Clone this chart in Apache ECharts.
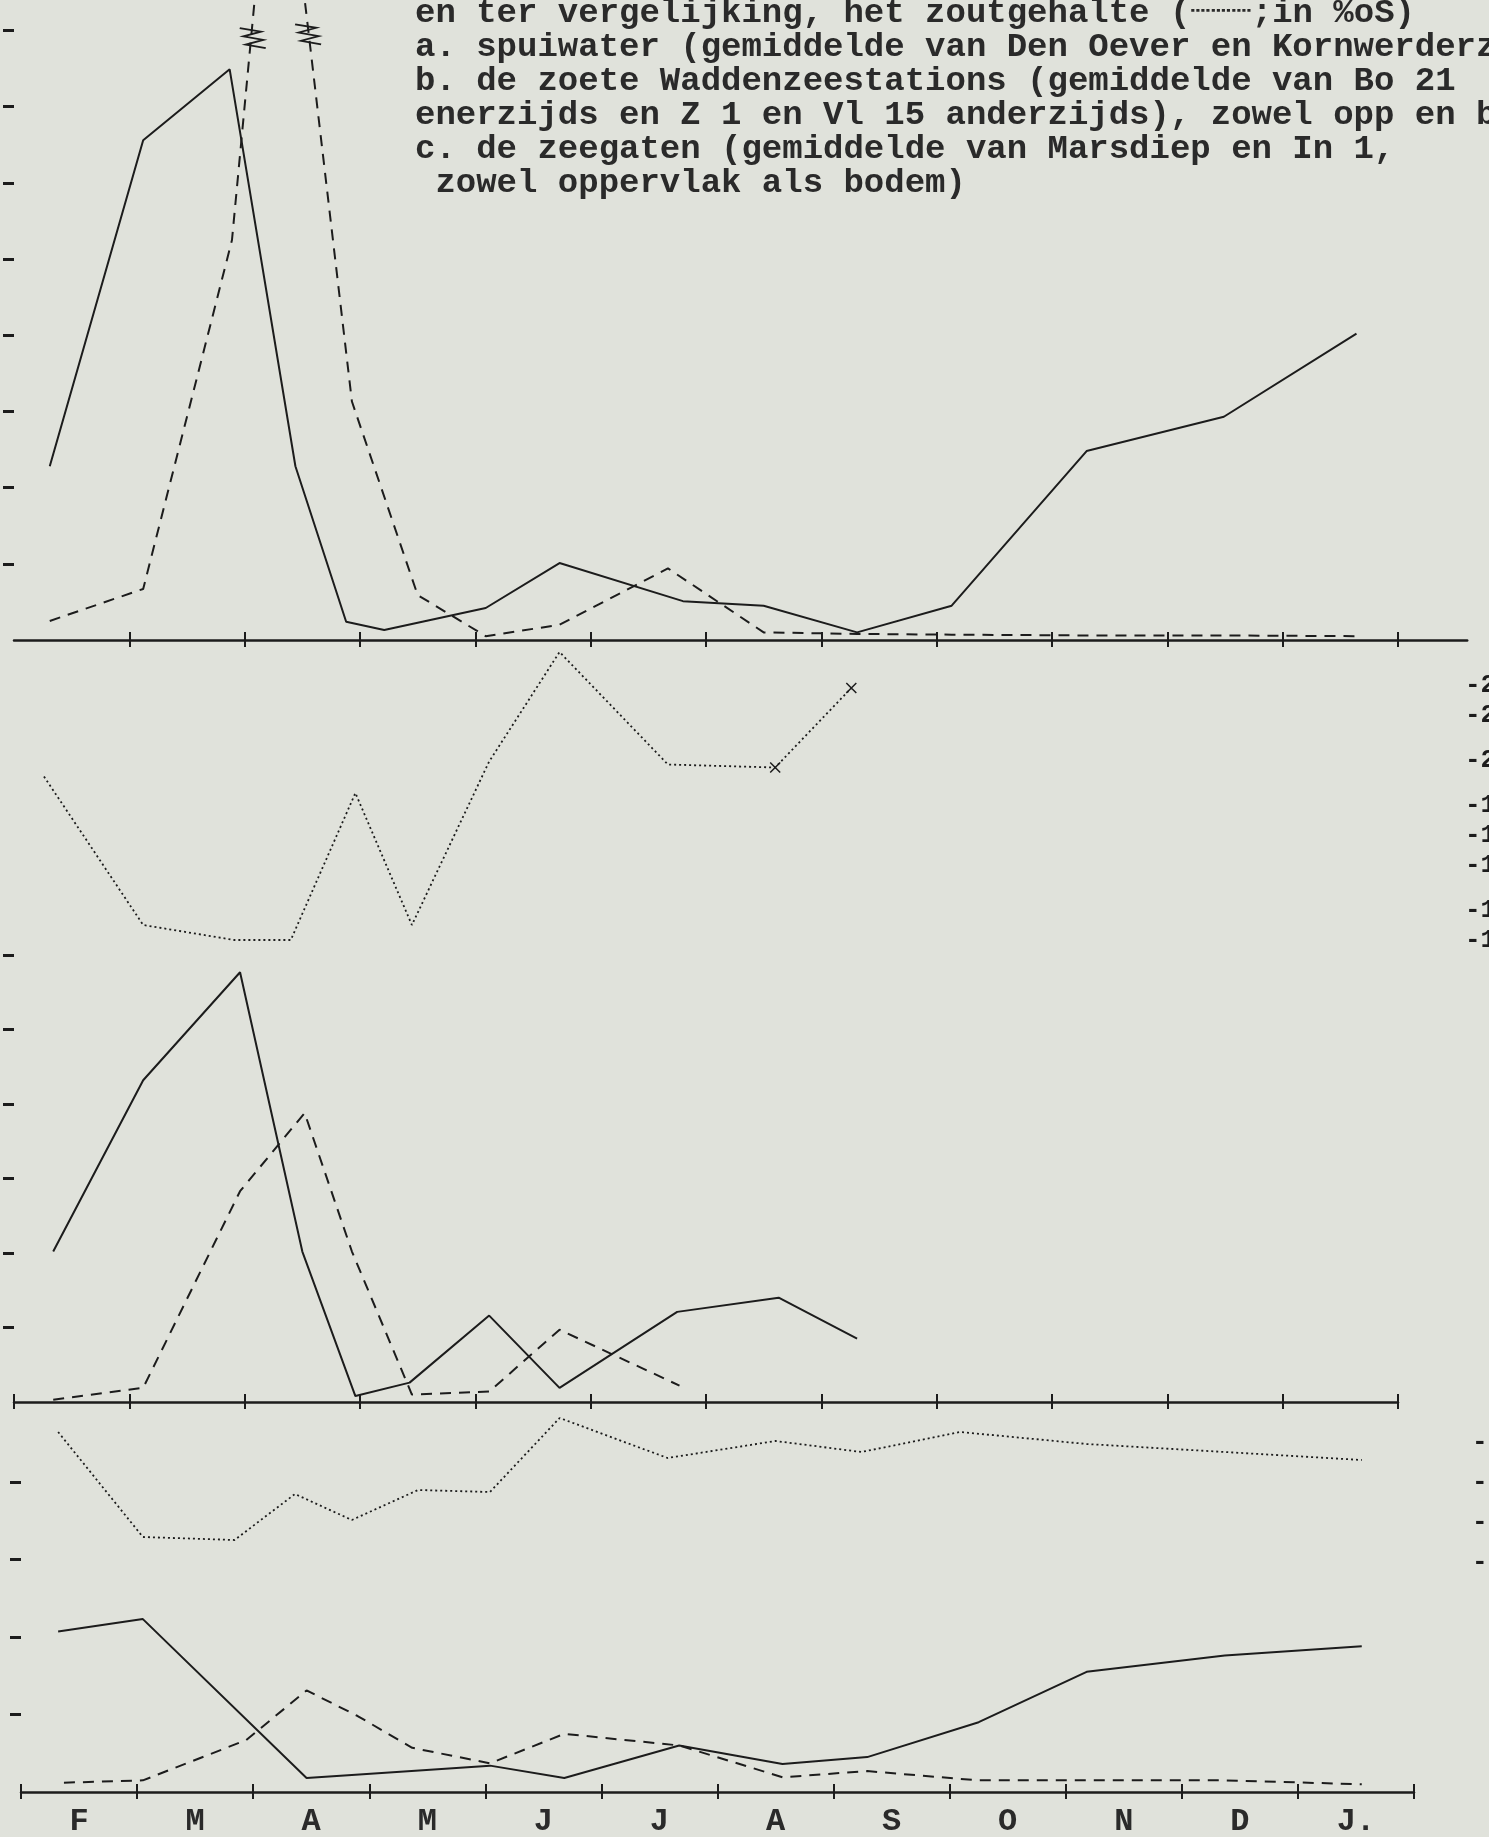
<!DOCTYPE html>
<html>
<head>
<meta charset="utf-8">
<script src="https://cdn.jsdelivr.net/npm/echarts@6/dist/echarts.min.js"></script>
<style>
    html, body { margin: 0; padding: 0; background: #e0e2db; }
    #chart { width: 1489px; height: 1837px; }
</style>
</head>
<body>
<div id="chart"></div>
<script>
var months = ['F', 'M', 'A', 'M', 'J', 'J', 'A', 'S', 'O', 'N', 'D', 'J.'];
var headerLines = [
    'en ter vergelijking, het zoutgehalte (\u2508\u2508\u2508;in %oS)',
    'a. spuiwater (gemiddelde van Den Oever en Kornwerderz',
    'b. de zoete Waddenzeestations (gemiddelde van Bo 21',
    'enerzijds en Z 1 en Vl 15 anderzijds), zowel opp en bo)',
    'c. de zeegaten (gemiddelde van Marsdiep en In 1,',
    ' zowel oppervlak als bodem)'
];

// x = maanden vanaf begin februari
// a. spuiwater
var spuiSolid = [[0.31, 2.28], [1.12, 6.56], [1.87, 7.49], [2.44, 2.28], [2.88, 0.24], [3.21, 0.13], [4.09, 0.42], [4.73, 1.01], [5.80, 0.51], [6.50, 0.45], [7.31, 0.10], [8.13, 0.45], [9.30, 2.48], [10.49, 2.93], [11.64, 4.02]];
var spuiDashed = [[0.31, 0.25], [1.12, 0.67], [1.89, 5.25], [2.28, 11.5], [2.93, 3.13], [3.50, 0.59], [4.09, 0.05], [4.73, 0.20], [5.67, 0.94], [6.50, 0.10], [7.31, 0.08], [8.13, 0.07], [9.30, 0.06], [10.49, 0.06], [11.64, 0.05]];
var spuiBreaks = [[2.07, 7.9], [2.55, 7.95]];

// b. zoete Waddenzeestations
var zoetSolid = [[0.34, 2.02], [1.12, 4.32], [1.96, 5.77], [2.50, 2.02], [2.96, 0.08], [3.43, 0.26], [4.12, 1.16], [4.73, 0.19], [5.75, 1.21], [6.63, 1.40], [7.31, 0.85]];
var zoetDashed = [[0.34, 0.03], [1.12, 0.19], [1.96, 2.83], [2.52, 3.88], [2.93, 2.02], [3.45, 0.10], [4.12, 0.14], [4.73, 0.97], [5.77, 0.22]];
var zoetSalt = [[0.26, 20.9], [1.12, 11.0], [1.91, 10.0], [2.40, 10.0], [2.96, 19.8], [3.45, 11.0], [4.12, 21.9], [4.73, 29.2], [5.67, 21.7], [6.60, 21.5], [7.26, 26.8]];
var zoetSaltCrossed = [9, 10];
var zoetSaltTicks = [27, 25, 22, 19, 17, 15, 12, 10];

// c. zeegaten
var zeeSolid = [[0.32, 2.07], [1.05, 2.23], [2.46, 0.18], [2.85, 0.22], [4.04, 0.34], [4.68, 0.18], [5.67, 0.60], [6.56, 0.36], [7.29, 0.45], [8.25, 0.90], [9.18, 1.55], [10.37, 1.76], [11.55, 1.88]];
var zeeDashed = [[0.37, 0.12], [1.05, 0.15], [1.94, 0.67], [2.46, 1.31], [2.90, 0.98], [3.37, 0.57], [4.04, 0.37], [4.68, 0.75], [5.67, 0.60], [6.56, 0.19], [7.29, 0.27], [8.25, 0.15], [9.18, 0.15], [10.37, 0.15], [11.55, 0.10]];
var zeeSalt = [[0.32, 28.5], [1.05, 23.25], [1.84, 23.1], [2.36, 25.4], [2.85, 24.1], [3.42, 25.6], [4.04, 25.5], [4.64, 29.2], [5.57, 27.2], [6.50, 28.05], [7.24, 27.5], [8.09, 28.5], [9.18, 27.9], [10.37, 27.5], [11.55, 27.1]];
var zeeSaltTicks = [28, 26, 24, 22];

var leftTicksA = [1, 2, 3, 4, 5, 6, 7, 8];
var leftTicksB = [1, 2, 3, 4, 5, 6];
var leftTicksC = [1, 2, 3, 4];
var monthTicks = [0, 1, 2, 3, 4, 5, 6, 7, 8, 9, 10, 11, 12];

var ink = '#1c1c1c';
var typeFont = '"Liberation Mono", "DejaVu Sans Mono", monospace';

function xMain(grid, max, ticks) {
    return {
        type: 'value', gridIndex: grid, min: 0, max: max, position: 'bottom',
        axisLine: { show: true, lineStyle: { color: ink, width: 2.5 } },
        axisTick: { show: true, inside: false, length: 7, customValues: ticks, lineStyle: { color: ink, width: 2 } },
        axisLabel: { show: false },
        splitLine: { show: false }
    };
}
function xInside(grid, max, ticks) {
    return {
        type: 'value', gridIndex: grid, min: 0, max: max, position: 'bottom',
        axisLine: { show: false },
        axisTick: { show: true, inside: true, length: 8, customValues: ticks, lineStyle: { color: ink, width: 2 } },
        axisLabel: { show: false },
        splitLine: { show: false }
    };
}
function xHidden(grid) {
    return { type: 'value', gridIndex: grid, min: 0, max: 12, show: false };
}
function yLeft(grid, max, ticks) {
    return {
        type: 'value', gridIndex: grid, min: 0, max: max, position: 'left',
        axisLine: { show: false },
        axisTick: { show: true, length: 11, customValues: ticks, lineStyle: { color: ink, width: 3 } },
        axisLabel: { show: false },
        splitLine: { show: false }
    };
}
// typed labels: a hyphen then the value, cut off by the page edge
function yRight(grid, min, max, ticks, offset) {
    return {
        type: 'value', gridIndex: grid, min: min, max: max, position: 'right', offset: offset,
        axisLine: { show: false },
        axisTick: { show: false },
        axisLabel: {
            show: true, customValues: ticks, margin: 2, align: 'left', color: ink,
            fontFamily: typeFont, fontSize: 26, fontWeight: 'bold',
            formatter: function (v) { return '-' + v; }
        },
        splitLine: { show: false }
    };
}
function gridBox(left, top, width, height) {
    return { left: left, top: top, width: width, height: height, containLabel: false, outerBoundsMode: 'none' };
}
function lineSeries(data, xi, yi, dash, width) {
    return {
        type: 'line', data: data, xAxisIndex: xi, yAxisIndex: yi,
        symbol: 'none', smooth: false, clip: true,
        lineStyle: { color: ink, width: width, type: dash }
    };
}

var zigzag = 'path://M0,0 L18,3 L3,7 L20,10 L5,14 L22,17';
var crossMark = 'path://M0,0 L10,10 M10,0 L0,10';

var saltB = lineSeries(zoetSalt.map(function (p, i) {
    if (zoetSaltCrossed.indexOf(i) >= 0) {
        return { value: p, symbol: crossMark, symbolSize: 10, itemStyle: { color: 'transparent', borderColor: ink, borderWidth: 1.5 } };
    }
    return { value: p, symbol: 'none' };
}), 4, 2, [2, 3], 1.8);

var spuiDashedSeries = lineSeries(spuiDashed, 0, 0, [11, 8], 2);
spuiDashedSeries.markPoint = {
    symbol: zigzag, symbolSize: [26, 20], silent: true,
    label: { show: false },
    itemStyle: { color: 'transparent', borderColor: ink, borderWidth: 2 },
    data: spuiBreaks.map(function (p) { return { coord: p }; })
};

var option = {
    backgroundColor: '#e0e2db',
    animation: false,
    title: {
        text: headerLines.join('\n'),
        left: 410, top: -9,
        textStyle: { fontFamily: typeFont, fontSize: 34, fontWeight: 'bold', color: '#2a2a2a', lineHeight: 34 }
    },
    grid: [
        gridBox(14, 0, 1453.2, 640),
        gridBox(14, 640, 1384, 762),
        gridBox(14, 640, 1384, 300),
        gridBox(21, 1402, 1393, 390),
        gridBox(21, 1402, 1393, 200)
    ],
    xAxis: [
        xMain(0, 12.6, monthTicks.slice(1)),
        xInside(0, 12.6, monthTicks.slice(1)),
        xMain(1, 12, monthTicks),
        xInside(1, 12, monthTicks),
        xHidden(2),
        xMain(3, 12, monthTicks),
        xInside(3, 12, monthTicks),
        {
            type: 'category', gridIndex: 3, data: months, position: 'bottom', boundaryGap: true,
            axisLine: { show: false }, axisTick: { show: false }, splitLine: { show: false },
            axisLabel: { show: true, interval: 0, margin: 14, color: '#2a2a2a', fontFamily: typeFont, fontSize: 32, fontWeight: 'bold' }
        },
        xHidden(4)
    ],
    yAxis: [
        yLeft(0, 8.4, leftTicksA),
        yLeft(1, 10.23, leftTicksB),
        yRight(2, 10, 30, zoetSaltTicks, 65),
        yLeft(3, 5.03, leftTicksC),
        yRight(4, 20, 30, zeeSaltTicks, 56)
    ],
    series: [
        lineSeries(spuiSolid, 0, 0, 'solid', 2),
        spuiDashedSeries,
        lineSeries(zoetSolid, 2, 1, 'solid', 2),
        lineSeries(zoetDashed, 2, 1, [11, 8], 2),
        saltB,
        lineSeries(zeeSolid, 5, 3, 'solid', 2),
        lineSeries(zeeDashed, 5, 3, [11, 8], 2),
        lineSeries(zeeSalt, 8, 4, [2, 3], 1.8)
    ]
};

var myChart = echarts.init(document.getElementById('chart'));
myChart.setOption(option);
</script>
</body>
</html>
